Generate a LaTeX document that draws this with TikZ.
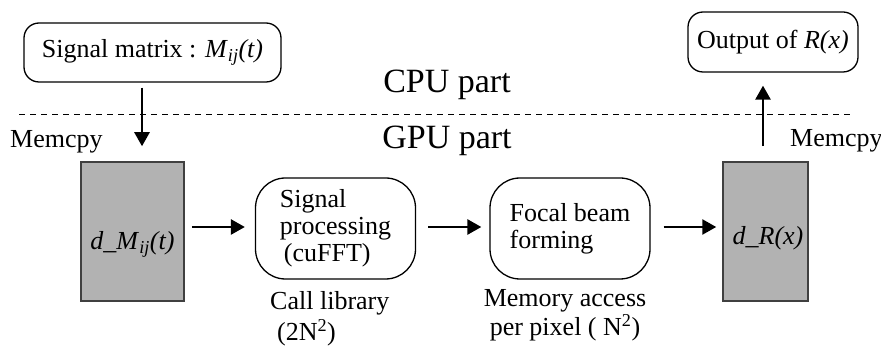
\documentclass[tikz,border=0pt]{standalone}
\usepackage{fontspec}
\setmainfont{Liberation Serif}
\usetikzlibrary{arrows.meta,positioning}

\newcommand{\rowY   }{227}
\newcommand{\downX  }{142}
\newcommand{\upX    }{763}
\newcommand{\boxMid }{231.5}
\newcommand{\stepMid}{228.5}
\definecolor{memgray}{gray}{0.70}
\definecolor{memedge}{gray}{0.25}

\tikzset{
  txt/.style={font=\fontsize{26}{27}\selectfont, inner sep=0pt},
  hostbox/.style={txt, draw, line width=1.3pt, rounded corners=15pt},
  stepbox/.style={txt, draw, line width=1.3pt, rounded corners=30pt,
                  minimum width=160pt, minimum height=101pt, align=left},
  membox/.style={draw=memedge, fill=memgray, line width=1.5pt, minimum height=139pt},
  flow/.style={line width=2.6pt, -{Triangle[length=14pt,width=15pt]}},
  part/.style={font=\fontsize{34}{36}\selectfont, inner sep=0pt, anchor=base}
}

\begin{document}
\begin{tikzpicture}[x=1pt, y=-1pt]
  \useasboundingbox (0,0) rectangle (881,347);

  % CPU / GPU border:
  \draw[line width=1pt, dash pattern=on 6pt off 5pt] (19,115) -- (852,115);
  \node[part] (cpu) at (447,93)  {CPU part};
  \node[part] (gpu) at (447,149) {GPU part};

  % Host side:
  \node[hostbox, minimum width=257pt, minimum height=59pt] (sig) at (152.5,52.5)
       {Signal matrix : \textit{M}\textsubscript{\textit{ij}}\textit{(t)}};
  \node[hostbox, minimum width=170pt, minimum height=60pt] (out) at (773,42)
       {Output of \textit{R(x)}};

  % Device memory:
  \node[membox, minimum width=103pt] (dM) at (132.5,\boxMid) {};
  \node[membox, minimum width=85pt]  (dR) at (765.5,\boxMid) {};
  \node[txt, anchor=base] (dMtxt) at (132.5,250)
       {\textit{d\_M}\textsubscript{\textit{ij}}\textit{(t)}};
  \node[txt, anchor=base] (dRtxt) at (768,245) {\textit{d\_R(x)}};

  % Kernels:
  \node[stepbox] (proc)  at (335.5,\stepMid) {Signal\\processing\\\hspace*{4pt}(cuFFT)};
  \node[stepbox] (focal) at (570,\stepMid)   {Focal beam\\forming};
  \node[txt, anchor=north west, align=left, font=\fontsize{26}{31}\selectfont] (lib) at (270,291)
       {Call library\\\hspace*{7pt}(2N\textsuperscript{2})};
  \node[txt, anchor=north, align=center, font=\fontsize{26}{29}\selectfont] (acc) at (565,289)
       {Memory access\\per pixel ( N\textsuperscript{2})};

  % Memcpy:
  \node[txt, anchor=base west] (cpyL) at (10,148)  {Memcpy};
  \node[txt, anchor=base west] (cpyR) at (790,147) {Memcpy};
  \coordinate (dn) at (\downX,0);
  \coordinate (up) at (\upX,0);
  \coordinate (row) at (0,\rowY);

  % Arrows:
  \draw[flow, shorten <=5pt,  shorten >=15pt] (sig.south -| dn) -- (dM.north -| dn);
  \draw[flow, shorten <=15pt, shorten >=13pt] (dR.north -| up)  -- (out.south -| up);
  \draw[flow, shorten <=7pt,  shorten >=10pt] (dM.east |- row)  -- (proc.west |- row);
  \draw[flow, shorten <=12pt, shorten >=8pt]  (proc.east |- row) -- (focal.west |- row);
  \draw[flow, shorten <=13pt, shorten >=6pt]  (focal.east |- row) -- (dR.west |- row);

\end{tikzpicture}
\end{document}
